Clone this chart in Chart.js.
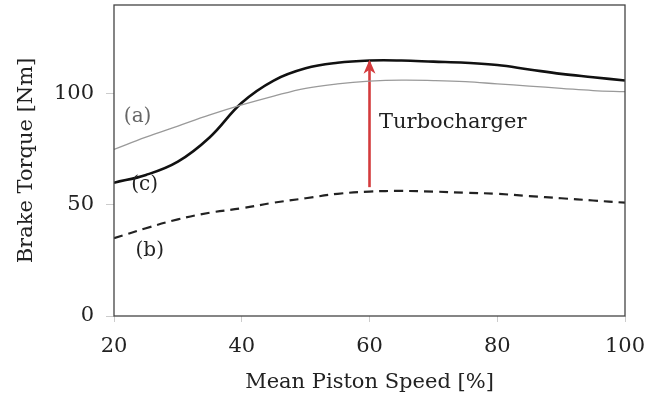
<!DOCTYPE html>
<html>
<head>
<meta charset="utf-8">
<script src="https://cdn.jsdelivr.net/npm/chart.js@4"></script>
<style>
  html, body { margin: 0; padding: 0; background: #fff; }
  #wrap { width: 646px; height: 396px; }
</style>
</head>
<body>
<div id="wrap"><canvas id="torque-chart" width="646" height="396"></canvas></div>
<script>
const SPEED_PCT = [20, 25, 30, 35, 40, 45, 50, 55, 60, 65, 70, 75, 80, 85, 90, 95, 100];
// (a) naturally aspirated, thin grey
const TORQUE_A = [75, 80.5, 85.5, 90.5, 95, 99, 102.5, 104.5, 105.7, 106.2, 106, 105.5, 104.5, 103.5, 102.5, 101.5, 101];
// (b) dashed
const TORQUE_B = [35, 39.5, 43.5, 46.5, 48.5, 51, 53, 55, 56, 56.3, 56, 55.5, 55, 54, 53, 52, 51];
// (c) turbocharged, thick black
const TORQUE_C = [60, 63.5, 69.5, 80.5, 96, 106, 111.5, 114, 115, 115, 114.5, 114, 113, 111, 109, 107.5, 106];

const ARROW_X = [60, 60];
const ARROW_Y = [58, 114.5];

const X_TICKS = [20, 40, 60, 80, 100];
const Y_TICKS = [0, 50, 100];

const NOTES = [
  { text: '(a)', x: 23.7, y: 89.5, color: '#666' },
  { text: '(c)', x: 24.8, y: 59, color: '#222' },
  { text: '(b)', x: 25.6, y: 29.5, color: '#222' },
  { text: 'Turbocharger', x: 61.5, y: 87, color: '#222', align: 'left' }
];

const SERIF = '"DejaVu Serif", "Liberation Serif", serif';

function toPoints(xs, ys) {
  return xs.map((x, i) => ({ x, y: ys[i] }));
}

const framePlugin = {
  id: 'frame',
  afterDatasetsDraw(chart) {
    const { ctx, chartArea: a, scales } = chart;
    ctx.save();
    ctx.strokeStyle = '#444';
    ctx.lineWidth = 1.3;
    ctx.strokeRect(a.left, a.top, a.right - a.left, a.bottom - a.top);

    // arrow head on the turbocharger arrow
    const ds = chart.data.datasets[3].data;
    const tip = ds[ds.length - 1];
    const px = scales.x.getPixelForValue(tip.x);
    const py = scales.y.getPixelForValue(tip.y);
    ctx.fillStyle = '#d43b3d';
    ctx.beginPath();
    ctx.moveTo(px, py - 2);
    ctx.lineTo(px - 6, py + 12);
    ctx.lineTo(px, py + 8);
    ctx.lineTo(px + 6, py + 12);
    ctx.closePath();
    ctx.fill();

    ctx.textBaseline = 'middle';
    NOTES.forEach((n) => {
      ctx.font = (n.align ? '21px ' : '20px ') + SERIF;
      ctx.fillStyle = n.color;
      ctx.textAlign = n.align || 'center';
      ctx.fillText(n.text, scales.x.getPixelForValue(n.x), scales.y.getPixelForValue(n.y));
    });
    ctx.restore();
  }
};

new Chart(document.getElementById('torque-chart').getContext('2d'), {
  type: 'line',
  data: {
    datasets: [
      {
        label: '(a)',
        data: toPoints(SPEED_PCT, TORQUE_A),
        borderColor: '#9a9a9a',
        borderWidth: 1.3,
        pointRadius: 0,
        tension: 0.4
      },
      {
        label: '(b)',
        data: toPoints(SPEED_PCT, TORQUE_B),
        borderColor: '#222',
        borderWidth: 2.2,
        borderDash: [9, 6],
        pointRadius: 0,
        tension: 0.4
      },
      {
        label: '(c)',
        data: toPoints(SPEED_PCT, TORQUE_C),
        borderColor: '#111',
        borderWidth: 2.6,
        pointRadius: 0,
        tension: 0.4
      },
      {
        label: 'Turbocharger',
        data: toPoints(ARROW_X, ARROW_Y),
        borderColor: '#d43b3d',
        borderWidth: 2.6,
        pointRadius: 0
      }
    ]
  },
  options: {
    responsive: false,
    animation: false,
    events: [],
    layout: { padding: { left: 0, right: 21, top: 5, bottom: 0 } },
    plugins: { legend: { display: false }, tooltip: { enabled: false } },
    scales: {
      x: {
        type: 'linear',
        min: 20,
        max: 100,
        afterFit: (scale) => {
          scale.height = 80;
          scale.paddingLeft = 0;
          scale.paddingRight = 0;
        },
        afterBuildTicks: (scale) => { scale.ticks = X_TICKS.map((v) => ({ value: v })); },
        ticks: { color: '#222', font: { family: SERIF, size: 21 }, padding: 12, maxRotation: 0 },
        grid: { drawOnChartArea: false, drawTicks: true, tickLength: 6, color: '#ccc' },
        border: { display: false },
        title: {
          display: true,
          text: 'Mean Piston Speed [%]',
          color: '#222',
          font: { family: SERIF, size: 21 },
          padding: { top: 0, bottom: 1 }
        }
      },
      y: {
        min: 0,
        max: 140,
        afterFit: (scale) => {
          scale.width = 114;
          scale.paddingTop = 0;
          scale.paddingBottom = 0;
        },
        afterBuildTicks: (scale) => { scale.ticks = Y_TICKS.map((v) => ({ value: v })); },
        ticks: { color: '#222', font: { family: SERIF, size: 21 }, padding: 12 },
        grid: { drawOnChartArea: false, drawTicks: true, tickLength: 8, color: '#ccc' },
        border: { display: false },
        title: {
          display: true,
          text: 'Brake Torque [Nm]',
          color: '#222',
          font: { family: SERIF, size: 21 },
          padding: { top: 14, bottom: 0 }
        }
      }
    }
  },
  plugins: [framePlugin]
});
</script>
</body>
</html>
